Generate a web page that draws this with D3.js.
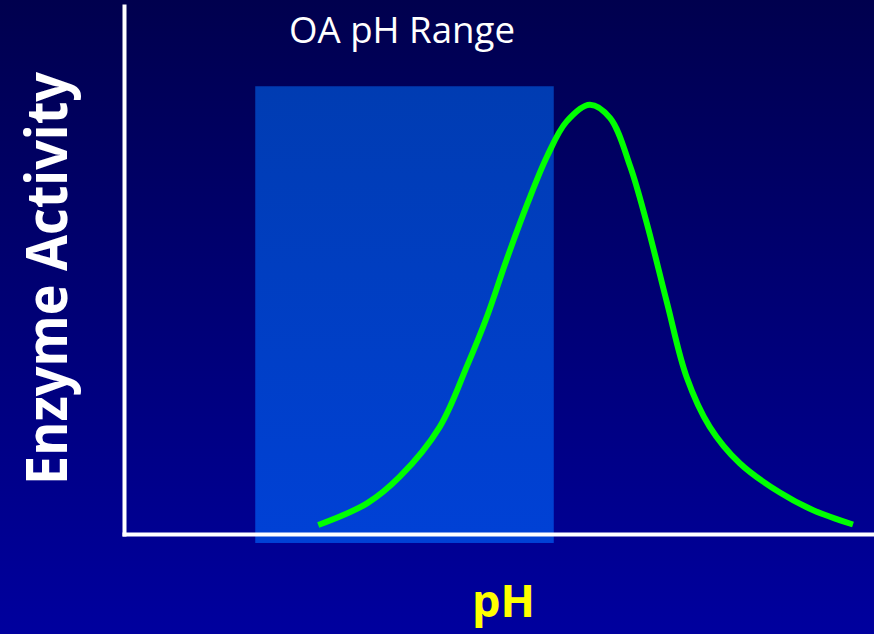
<!DOCTYPE html>
<html lang="en">
<head>
	<meta charset="utf-8">
	<title>Enzyme Activity vs pH</title>
	<script type="text/javascript" src="https://d3js.org/d3.v7.min.js"></script>
	<style type="text/css">
		body { margin: 0; padding: 0; overflow: hidden; }
		text { font-family: "Comic Sans MS", "Open Sans", sans-serif; }
	</style>
</head>
<body>
<script type="text/javascript">

	// curve (x in arbitrary pH units 0-100, activity 0-100)
	var phValues = [25.9, 32.4, 36.8, 42.1, 45.7, 48.4, 51.0, 53.8, 56.4, 59.0, 62.1,
		64.8, 67.5, 69.7, 72.4, 75.0, 78.1, 82.1, 87.5, 91.9, 97.2];
	var activity = [1.7, 5.8, 10.9, 20.3, 31.7, 41.2, 51.9, 62.6, 71.5, 78.1, 81.3,
		78.8, 69.6, 58.9, 43.8, 29.8, 20.3, 13.4, 7.8, 4.5, 1.8];

	// shaded "OA pH Range" band
	var rangeX = [17.5, 57.3];
	var rangeY = [-1.7, 84.8];

	var titleText = "OA pH Range";
	var xLabel = "pH";
	var yLabel = "Enzyme Activity";

	var width = 874, height = 634;

	var x = d3.scaleLinear().domain([0, 100]).range([124, 874]);
	var y = d3.scaleLinear().domain([0, 100]).range([534, 6]);

	var svg = d3.select("body")
		.append("svg")
		.attr("width", width)
		.attr("height", height);

	var defs = svg.append("defs");

	var bg = defs.append("linearGradient")
		.attr("id", "bg")
		.attr("x1", 0).attr("y1", 0).attr("x2", 0).attr("y2", 1);
	bg.append("stop").attr("offset", "0%").attr("stop-color", "#00004e");
	bg.append("stop").attr("offset", "100%").attr("stop-color", "#00009e");

	var band = defs.append("linearGradient")
		.attr("id", "band")
		.attr("x1", 0).attr("y1", 0).attr("x2", 0).attr("y2", 1);
	band.append("stop").attr("offset", "0%").attr("stop-color", "#003cb2");
	band.append("stop").attr("offset", "100%").attr("stop-color", "#0041d6");

	svg.append("rect")
		.attr("width", width)
		.attr("height", height)
		.attr("fill", "url(#bg)");

	svg.append("rect")
		.attr("x", x(rangeX[0]))
		.attr("y", y(rangeY[1]))
		.attr("width", x(rangeX[1]) - x(rangeX[0]))
		.attr("height", y(rangeY[0]) - y(rangeY[1]))
		.attr("fill", "url(#band)");

	// axes: just the white lines, no ticks
	svg.append("g")
		.attr("transform", "translate(0," + y(0) + ")")
		.call(d3.axisBottom(x).ticks(0).tickSizeOuter(0));
	svg.append("g")
		.attr("transform", "translate(" + x(0) + ",0)")
		.call(d3.axisLeft(y).ticks(0).tickSizeOuter(0));

	svg.selectAll(".domain")
		.attr("stroke", "#ffffff")
		.attr("stroke-width", 4)
		.attr("stroke-linecap", "square");

	var points = phValues.map(function(d, i) { return [d, activity[i]]; });

	var line = d3.line()
		.x(function(d) { return x(d[0]); })
		.y(function(d) { return y(d[1]); })
		.curve(d3.curveCatmullRom.alpha(0.5));

	svg.append("path")
		.datum(points)
		.attr("d", line)
		.attr("fill", "none")
		.attr("stroke", "#00ff00")
		.attr("stroke-width", 6);

	svg.append("text")
		.attr("x", 289)
		.attr("y", 43)
		.attr("font-size", 36)
		.attr("textLength", 226)
		.attr("lengthAdjust", "spacingAndGlyphs")
		.attr("fill", "#ffffff")
		.text(titleText);

	svg.append("text")
		.attr("transform", "translate(67,485) rotate(-90)")
		.attr("font-size", 58)
		.attr("font-weight", "bold")
		.attr("textLength", 413)
		.attr("lengthAdjust", "spacingAndGlyphs")
		.attr("fill", "#ffffff")
		.text(yLabel);

	svg.append("text")
		.attr("x", 472)
		.attr("y", 617)
		.attr("font-size", 44)
		.attr("font-weight", "bold")
		.attr("textLength", 63)
		.attr("lengthAdjust", "spacingAndGlyphs")
		.attr("fill", "#ffff00")
		.text(xLabel);

</script>
</body>
</html>
